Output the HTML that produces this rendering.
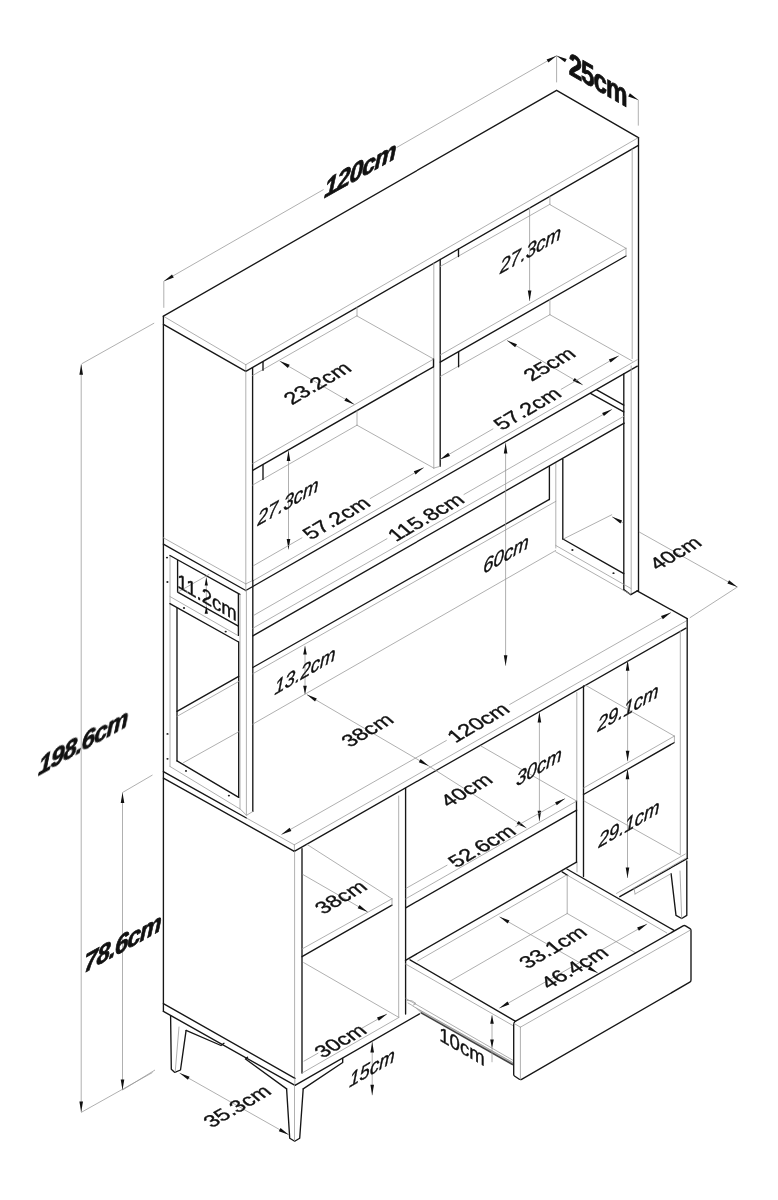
<!DOCTYPE html>
<html><head><meta charset="utf-8"><title>Dimensions</title>
<style>
html,body{margin:0;padding:0;background:#fff}
svg{display:block}
.k{fill:none;stroke:#161616;stroke-width:1.35;stroke-linecap:round;stroke-linejoin:round}
.g{fill:none;stroke:#9c9c9c;stroke-width:.8;stroke-linecap:round;stroke-linejoin:round}
.d{fill:none;stroke:#959595;stroke-width:.75}
.a{fill:#111;stroke:none}
.s{fill:none;stroke:#444;stroke-width:1.6}
.sc{fill:#222;stroke:none}
.t{font-family:"Liberation Sans",sans-serif;fill:#111;stroke:#111;stroke-width:.4px}
.b{font-weight:bold;stroke:#111;stroke-width:.8px;stroke-linejoin:round;letter-spacing:-1.2px}
.i{font-style:italic}
.h{}
</style></head><body>
<svg width="778" height="1200" viewBox="0 0 778 1200">
<rect width="778" height="1200" fill="#fff"/>
<g opacity="0.999">
<path class="k" d="M163.4 316.2L556.6 90.3L638.4 137.6"/>
<path class="g" d="M163.4 316.2L245.8 364.7"/>
<path class="g" d="M245.8 364.7L638.4 137.6"/>
<path class="g" d="M245.8 364.7L245.8 371.4"/>
<path class="k" d="M163.4 324.3L245.8 371.4L638.4 145.4"/>
<path class="k" d="M163.4 316.2L163.4 1011.4"/>
<path class="k" d="M638.5 137.6L638.5 590.8"/>
<path class="g" d="M245.8 371.4L245.8 583.9"/>
<path class="k" d="M252.6 368L252.6 580.5"/>
<path class="g" d="M163.4 537.8L245.8 583.9"/>
<path class="k" d="M163.4 544.2L245.8 590.5"/>
<path class="g" d="M245.8 583.9L252.6 580.5"/>
<path class="g" d="M252.6 581L637.3 359.7"/>
<path class="k" d="M245.8 590.5L637.3 366.1"/>
<path class="g" d="M245.8 583.9L245.8 590.5"/>
<path class="g" d="M632.2 149L632.2 358.6"/>
<path class="g" d="M433.8 263.2L433.8 468.1"/>
<path class="k" d="M440.2 259.5L440.2 466.3"/>
<path class="g" d="M433.8 468.1L440.2 466.3"/>
<path class="g" d="M252.7 463.5L433.4 359.2"/>
<path class="k" d="M433.5 358.9L433.5 366.8"/>
<path class="k" d="M252.7 470.3L433.4 366.8"/>
<path class="g" d="M357 316L433.4 358.9"/>
<path class="g" d="M252.6 375.5L357 315.8"/>
<path class="g" d="M357 307.4L357 316"/>
<path class="k" d="M263 362.2L263 370.3"/>
<path class="g" d="M252.7 485L357 425.2"/>
<path class="g" d="M357 410.6L357 425.2"/>
<path class="g" d="M357 425.2L433.8 468.1"/>
<path class="k" d="M263 465L263 479.4"/>
<path class="g" d="M440.2 355L626 248.3"/>
<path class="k" d="M440.2 362.2L626 256"/>
<path class="g" d="M626 248.3L626 256"/>
<path class="g" d="M549.9 204.6L626 248.3"/>
<path class="g" d="M440.2 266.5L549.9 204.3"/>
<path class="g" d="M549.9 196.3L549.9 204.6"/>
<path class="k" d="M458.5 248.8L458.5 256.5"/>
<path class="g" d="M440.2 376.5L549.9 314.7"/>
<path class="g" d="M549.9 299.5L549.9 314.7"/>
<path class="g" d="M549.9 314.7L632.2 361"/>
<path class="k" d="M458.6 352.2L458.6 366.8"/>
<path class="g" d="M170 556L170 766.5"/>
<path class="k" d="M169.9 555.5L239.9 594.4"/>
<path class="k" d="M177.6 560.4L177.6 592.2"/>
<path class="k" d="M177.6 592.2L238.4 626.2"/>
<path class="k" d="M238.4 594.4L238.4 635.4"/>
<path class="g" d="M169.9 596.5L237.7 635.4"/>
<path class="k" d="M169.9 603.6L238.6 642"/>
<path class="k" d="M177 608.5L177 760.9"/>
<path class="k" d="M177 760.9L238.7 797.4"/>
<path class="k" d="M238.7 641.9L238.7 797.4"/>
<path class="g" d="M170 766.5L240 809"/>
<path class="k" d="M163.4 771.7L246.4 818"/>
<ellipse class="sc" cx="167" cy="557.6" rx="1.1" ry="0.9"/>
<ellipse class="sc" cx="167.4" cy="582" rx="1.1" ry="0.9"/>
<ellipse class="sc" cx="184" cy="608" rx="1.1" ry="0.9"/>
<ellipse class="sc" cx="225.7" cy="631.6" rx="1.1" ry="0.9"/>
<ellipse class="sc" cx="167.5" cy="733.9" rx="1.1" ry="0.9"/>
<ellipse class="sc" cx="167.5" cy="758.8" rx="1.1" ry="0.9"/>
<ellipse class="sc" cx="186" cy="770.9" rx="1.1" ry="0.9"/>
<ellipse class="sc" cx="228.9" cy="795.6" rx="1.1" ry="0.9"/>
<ellipse class="sc" cx="572.4" cy="550" rx="1.1" ry="0.9"/>
<ellipse class="sc" cx="613.5" cy="573.2" rx="1.1" ry="0.9"/>
<path class="g" d="M177.6 592.2L209 574.5"/>
<path class="g" d="M240 594.4L240 808.8"/>
<path class="g" d="M246.4 590.5L246.4 815.3"/>
<path class="k" d="M252.8 580.5L252.8 811.4"/>
<path class="g" d="M240 808.8L246.5 815.3L253 811.4"/>
<path class="k" d="M623.8 373.8L623.8 589.6"/>
<path class="g" d="M631.2 366L631.2 594.6"/>
<path class="k" d="M623.8 589.6L630.8 594.7L637.3 590.8"/>
<path class="k" d="M549.4 466.4L549.4 499.5"/>
<path class="g" d="M555.8 462.3L555.8 548"/>
<path class="k" d="M562.8 459.2L562.8 539"/>
<path class="k" d="M562.9 539L623.8 573.7"/>
<path class="g" d="M555.7 545.4L631 588.5"/>
<path class="g" d="M555.7 551.8L630.3 594.2"/>
<path class="k" d="M596.7 389.9L623.8 405.1"/>
<path class="k" d="M590.5 393.4L623.8 411.9"/>
<path class="g" d="M252.8 628.3L624.2 416.1"/>
<path class="k" d="M252.8 635.8L624.2 423.1"/>
<path class="k" d="M252.8 667.5L549.4 499.3"/>
<path class="g" d="M252.8 673.7L555.9 501.3"/>
<path class="k" d="M177 711.3L238.7 676.3"/>
<path class="g" d="M177 716.4L238.7 681.5"/>
<path class="g" d="M183.4 762.7L238.7 731.8"/>
<path class="g" d="M252.8 724.1L555.7 550.5"/>
<path class="g" d="M246.4 818L294.3 844.8"/>
<path class="g" d="M294.4 844.8L294.4 851.3"/>
<path class="k" d="M163.4 778.1L294.3 851.3"/>
<path class="g" d="M294.3 844.8L687.2 620.4"/>
<path class="k" d="M294.3 851.3L686 628.1"/>
<path class="k" d="M637.1 590.8L687.2 618.6"/>
<path class="k" d="M687.2 618.6L687.2 858.4"/>
<path class="g" d="M294.6 851.3L294.6 1078.3"/>
<path class="k" d="M302 848.7L302 1073.1"/>
<path class="k" d="M163.4 1003.7L295 1078.3"/>
<path class="k" d="M163.4 1011.4L295 1085.4"/>
<path class="g" d="M294.8 1078.3L294.8 1085.4"/>
<path class="g" d="M302 1073.1L399 1017.4"/>
<path class="k" d="M295 1085.4L419.5 1013.9"/>
<path class="g" d="M398.7 796L398.7 1017.4"/>
<path class="k" d="M405.6 788.5L405.6 1014"/>
<path class="g" d="M302 949L392 898.8"/>
<path class="k" d="M302 956.7L392 905.2"/>
<path class="g" d="M392 898.8L392 905.2"/>
<path class="g" d="M307.1 844.5L392 898.8"/>
<path class="g" d="M303.7 962.6L398.3 1017.1"/>
<path class="g" d="M576.8 692.5L576.8 801"/>
<path class="g" d="M577 862.1L577 871.9"/>
<path class="k" d="M583.5 686L583.5 876.5"/>
<path class="g" d="M405.7 898.8L576.7 801.1"/>
<path class="k" d="M405.7 907.8L576.7 810.1"/>
<path class="k" d="M576.5 801.1L576.5 862.1"/>
<path class="g" d="M481 746L576.7 801.1"/>
<path class="k" d="M405.5 960.3L576.5 862.1"/>
<path class="g" d="M583.5 788L674.4 736.1"/>
<path class="k" d="M583.5 794.5L674.4 742.5"/>
<path class="g" d="M674.4 736.1L674.4 742.5"/>
<path class="g" d="M585.3 685.1L674.4 736.1"/>
<path class="g" d="M680.3 630.7L680.3 854"/>
<path class="g" d="M616.5 893.4L685.3 854"/>
<path class="k" d="M619.8 896.7L687.5 858.4"/>
<path class="g" d="M584.1 801L680.5 855"/>
<path class="g" d="M417.8 960.8L565.7 875.5"/>
<path class="k" d="M562.1 871.9L567.8 875.5"/>
<path class="k" d="M566.9 869L674 930.3"/>
<path class="g" d="M567.8 875.5L666.8 932.9"/>
<path class="g" d="M567.2 875.5L567.2 913.5"/>
<path class="g" d="M567.2 913.5L448.6 982"/>
<path class="g" d="M567.2 913.5L635.7 952.9"/>
<path class="k" d="M410 959.8L515.2 1021.1"/>
<path class="g" d="M405.4 963.9L513.2 1025.7"/>
<path d="M414 1006.5L513 1062.2L513 1064.8L420.7 1012.8Z" fill="#bdbdbd" stroke="none"/>
<path class="g" d="M405.9 998.5L513 1060.3"/>
<path class="g" d="M413 1006.2L513 1062.6"/>
<path class="s" d="M420.7 1012.6L513 1064.8"/>
<path class="g" d="M407 1000.5L412 1000.8L416 1003.5L412.5 1005.6L408 1003"/>
<path class="k" d="M513.7 1025L513.7 1074.5Q513.7 1075.6 514.8 1076.3L519.3 1079.3Q520.4 1080 521.6 1079.3L689.8 982.2Q691 981.5 691 980L691 930.5Q691 929.3 690 928.7L685.5 925.9Q684.3 925.2 683.1 925.9L514.8 1021.7Q513.7 1022.4 513.7 1025Z"/>
<path class="g" d="M513.9 1023.3L520.4 1027.2"/>
<path class="g" d="M520.4 1027.2L690 930.3"/>
<path class="g" d="M520.4 1027.2L520.4 1079.3"/>
<path class="k" d="M170.6 1015.6L171.3 1069.3L174.8 1072.4L180.5 1070L186.1 1030.4"/>
<path class="g" d="M179 1027L175.2 1072"/>
<path class="k" d="M186.1 1030.4L221 1045.5L224 1043.3"/>
<path class="k" d="M286.6 1088.9L289.7 1138.2L294.7 1141.3L299.7 1138.2L303.2 1088.9"/>
<path class="g" d="M294.5 1085L294.5 1141"/>
<path class="k" d="M247.5 1057.3L245.5 1059L286.6 1088.9"/>
<path class="k" d="M303.2 1088.9L342.7 1062.5L342.7 1058.5"/>
<path class="k" d="M671.1 873.7L676 915.4L681.7 918.5L686.8 915.4L686.8 861"/>
<path class="g" d="M680 871L681.7 918.5"/>
<path class="g" d="M685.3 858.4L634 887.9"/>
<path class="g" d="M671 873.7L635 894"/>
<path class="g" d="M634 887.9L635 894"/>
<path class="d" d="M163.8 281.2L323.6 189.5"/>
<path class="d" d="M396.5 147.6L556.6 55.7"/>
<path class="a" d="M163.8 281.2L172 274.4L173.8 277.5Z"/>
<path class="a" d="M556.6 55.7L548.4 62.5L546.6 59.4Z"/>
<path class="d" d="M163.8 281.2L163.8 307.8"/>
<path class="d" d="M556.6 55.7L556.6 82.4"/>
<text class="t b i h" font-size="28" text-anchor="middle" transform="matrix(0.8730 -0.4870 -0.0500 0.9400 360 169)" y="10.1">120cm</text>
<path class="d" d="M556.6 55.7L566 60.8"/>
<path class="d" d="M629.3 95L638.3 99.9"/>
<path class="a" d="M556.6 55.7L566.7 59.1L565 62.3Z"/>
<path class="a" d="M638.3 99.9L628.2 96.5L629.9 93.3Z"/>
<path class="d" d="M638.3 99.9L638.3 125.6"/>
<text class="t b h" font-size="28" text-anchor="middle" transform="matrix(0.8660 0.5000 0.0000 1.1200 597.6 79)" y="10.1">25cm</text>
<path class="d" d="M81.2 364.3L81.2 1112"/>
<path class="a" d="M81.2 364.3L83 374.8L79.4 374.8Z"/>
<path class="a" d="M81.2 1112L79.4 1101.5L83 1101.5Z"/>
<path class="d" d="M81.7 363.8L154.2 323.1"/>
<path class="d" d="M81 1112.5L152.5 1072.5"/>
<text class="t b i h" font-size="28" text-anchor="middle" transform="matrix(0.8730 -0.4870 -0.0500 0.9400 83 741)" y="10.1">198.6cm</text>
<path class="d" d="M122.5 792.5L122.5 1090"/>
<path class="a" d="M122.5 792.5L124.3 803L120.7 803Z"/>
<path class="a" d="M122.5 1090L120.7 1079.5L124.3 1079.5Z"/>
<path class="d" d="M122.5 792.5L152.5 775"/>
<path class="d" d="M122.5 1090L155 1070"/>
<text class="t b i h" font-size="28" text-anchor="middle" transform="matrix(0.8730 -0.4870 -0.0500 0.9400 122.5 942.5)" y="10.1">78.6cm</text>
<path class="d" d="M279.7 361.1L354.4 404.5"/>
<path class="a" d="M279.7 361.1L289.7 364.8L287.9 367.9Z"/>
<path class="a" d="M354.4 404.5L344.4 400.8L346.2 397.7Z"/>
<text class="t h" font-size="21.5" text-anchor="middle" transform="matrix(0.8660 -0.5000 0.7000 0.6100 317 383)" y="7.7">23.2cm</text>
<path class="d" d="M529.6 207L529.6 301"/>
<path class="a" d="M529.6 301L527.8 290.5L531.4 290.5Z"/>
<text class="t i h" font-size="21.5" text-anchor="middle" transform="matrix(0.8660 -0.5000 -0.0400 0.9500 530.5 251)" y="5.8">27.3cm</text>
<path class="d" d="M288.5 450.6L288.5 549.4"/>
<path class="a" d="M288.5 450.6L290.3 461.1L286.7 461.1Z"/>
<path class="a" d="M288.5 549.4L286.7 538.9L290.3 538.9Z"/>
<text class="t i h" font-size="21.5" text-anchor="middle" transform="matrix(0.8660 -0.5000 -0.0400 0.9500 288 503)" y="5.8">27.3cm</text>
<path class="d" d="M252.8 566.1L302.3 537.6"/>
<path class="d" d="M369.9 498.7L423.8 467.6"/>
<path class="a" d="M423.8 467.6L415.6 474.4L413.8 471.3Z"/>
<text class="t h" font-size="21.5" text-anchor="middle" transform="matrix(0.8660 -0.5000 0.7000 0.6100 336 518)" y="7.7">57.2cm</text>
<path class="d" d="M507 340.4L582.8 384.9"/>
<path class="a" d="M507 340.4L517 344.2L515.1 347.3Z"/>
<path class="a" d="M582.8 384.9L572.8 381.1L574.7 378Z"/>
<text class="t h" font-size="21.5" text-anchor="middle" transform="matrix(0.8660 -0.5000 0.7000 0.6100 549 364)" y="7.7">25cm</text>
<path class="d" d="M440 459.6L493.3 428.7"/>
<path class="d" d="M560.8 389.5L618.8 355.8"/>
<path class="a" d="M440 459.6L448.2 452.8L450 455.9Z"/>
<path class="a" d="M618.8 355.8L610.6 362.6L608.8 359.5Z"/>
<text class="t h" font-size="21.5" text-anchor="middle" transform="matrix(0.8660 -0.5000 0.7000 0.6100 527 408.5)" y="7.7">57.2cm</text>
<path class="d" d="M254 615.2L387.3 538.5"/>
<path class="d" d="M463.6 494.7L612.1 409.3"/>
<path class="a" d="M612.1 409.3L603.9 416.1L602.1 413Z"/>
<text class="t h" font-size="21.5" text-anchor="middle" transform="matrix(0.8660 -0.5000 0.7000 0.6100 425.7 517)" y="7.7">115.8cm</text>
<path class="d" d="M505.6 443L505.6 665.7"/>
<path class="a" d="M505.6 443L507.4 453.5L503.8 453.5Z"/>
<path class="a" d="M505.6 665.7L503.8 655.2L507.4 655.2Z"/>
<text class="t i h" font-size="21.5" text-anchor="middle" transform="matrix(0.8660 -0.5000 -0.0400 0.9500 506 555.5)" y="5.8">60cm</text>
<path class="d" d="M206.3 577.4L206.3 605.7"/>
<path class="a" d="M206.3 577.4L207.9 585.4L204.7 585.4Z"/>
<path class="a" d="M206.3 605.7L207.9 613.7L204.7 613.7Z"/>
<text class="t h" font-size="21.5" text-anchor="middle" transform="matrix(0.8660 0.5000 0.0000 0.9500 207 597)" y="7.7">11.2cm</text>
<path class="d" d="M305 645.9L305 694.2"/>
<path class="a" d="M305 645.9L306.8 654.4L303.2 654.4Z"/>
<path class="a" d="M305 694.2L303.2 685.7L306.8 685.7Z"/>
<text class="t i h" font-size="21.5" text-anchor="middle" transform="matrix(0.8660 -0.5000 -0.0400 0.9500 305 672)" y="5.8">13.2cm</text>
<path class="d" d="M306.8 694.6L428.8 766"/>
<path class="a" d="M306.8 694.6L316.8 698.4L315 701.5Z"/>
<path class="a" d="M428.8 766L418.8 762.2L420.6 759.1Z"/>
<text class="t h" font-size="21.5" text-anchor="middle" transform="matrix(0.8660 -0.5000 0.7000 0.6100 367 730)" y="7.7">38cm</text>
<path class="d" d="M281.4 834.6L446.7 740.3"/>
<path class="d" d="M509.3 704.7L671 612.5"/>
<path class="a" d="M281.4 834.6L289.6 827.8L291.4 831Z"/>
<path class="a" d="M671 612.5L662.8 619.3L661 616.1Z"/>
<text class="t h" font-size="21.5" text-anchor="middle" transform="matrix(0.8660 -0.5000 0.7000 0.6100 478 722.5)" y="7.7">120cm</text>
<path class="d" d="M612.1 516.8L623.2 523"/>
<path class="d" d="M638.9 531.8L737.4 587"/>
<path class="a" d="M612.1 516.8L622.1 520.4L620.4 523.5Z"/>
<path class="a" d="M737.4 587L727.4 583.4L729.1 580.3Z"/>
<path class="d" d="M563.4 539L612.1 514.6"/>
<path class="d" d="M689.8 617.8L737.4 587"/>
<text class="t h" font-size="21.5" text-anchor="middle" transform="matrix(0.8660 -0.5000 0.7000 0.6100 675 553)" y="7.7">40cm</text>
<path class="d" d="M428.8 766L526.5 828.1"/>
<path class="a" d="M526.5 828.1L516.7 824L518.6 820.9Z"/>
<text class="t h" font-size="21.5" text-anchor="middle" transform="matrix(0.8660 -0.5000 0.7000 0.6100 466 790)" y="7.7">40cm</text>
<path class="d" d="M539.4 712L539.4 821.2"/>
<path class="a" d="M539.4 712L541.2 722.5L537.6 722.5Z"/>
<path class="a" d="M539.4 821.2L537.6 810.7L541.2 810.7Z"/>
<text class="t i h" font-size="21.5" text-anchor="middle" transform="matrix(0.8660 -0.5000 -0.0400 0.9500 539 768)" y="5.8">30cm</text>
<path class="d" d="M405.7 888.5L447.4 865"/>
<path class="d" d="M515.4 826.7L565.1 798.6"/>
<path class="a" d="M565.1 798.6L556.8 805.3L555.1 802.2Z"/>
<text class="t h" font-size="21.5" text-anchor="middle" transform="matrix(0.8660 -0.5000 0.7000 0.6100 481.5 846)" y="7.7">52.6cm</text>
<path class="d" d="M627.6 660.3L627.6 761.2"/>
<path class="a" d="M627.6 660.3L629.4 670.8L625.8 670.8Z"/>
<path class="a" d="M627.6 761.2L625.8 750.7L629.4 750.7Z"/>
<text class="t i h" font-size="21.5" text-anchor="middle" transform="matrix(0.8660 -0.5000 -0.0400 0.9500 628 709)" y="5.8">29.1cm</text>
<path class="d" d="M627.5 768.8L627.5 878"/>
<path class="a" d="M627.5 768.8L629.3 779.3L625.7 779.3Z"/>
<path class="a" d="M627.5 878L625.7 867.5L629.3 867.5Z"/>
<text class="t i h" font-size="21.5" text-anchor="middle" transform="matrix(0.8660 -0.5000 -0.0400 0.9500 629 825)" y="5.8">29.1cm</text>
<path class="d" d="M302.5 874.3L367.7 911.9"/>
<path class="a" d="M367.7 911.9L357.7 908.2L359.5 905.1Z"/>
<text class="t h" font-size="21.5" text-anchor="middle" transform="matrix(0.8660 -0.5000 0.7000 0.6100 340.5 897)" y="7.7">38cm</text>
<path class="d" d="M303.7 1061.3L318.3 1053"/>
<path class="d" d="M361.7 1028.3L387 1014"/>
<path class="a" d="M387 1014L378.8 1020.7L377 1017.6Z"/>
<text class="t h" font-size="21.5" text-anchor="middle" transform="matrix(0.8660 -0.5000 0.7000 0.6100 340 1040.7)" y="7.7">30cm</text>
<path class="d" d="M372.2 1042L372.2 1095.2"/>
<path class="a" d="M372.2 1042L374 1052.5L370.4 1052.5Z"/>
<path class="a" d="M372.2 1095.2L370.4 1084.7L374 1084.7Z"/>
<text class="t i h" font-size="21.5" text-anchor="middle" transform="matrix(0.8660 -0.5000 -0.0400 0.9500 372 1069)" y="5.8">15cm</text>
<path class="d" d="M179.6 1073.1L288.8 1134.8"/>
<path class="a" d="M179.6 1073.1L189.6 1076.7L187.9 1079.8Z"/>
<path class="a" d="M288.8 1134.8L278.8 1131.2L280.5 1128.1Z"/>
<text class="t h" font-size="21.5" text-anchor="middle" transform="matrix(0.8660 -0.5000 0.7000 0.6100 236.8 1106)" y="7.7">35.3cm</text>
<path class="d" d="M492 1015.2L492 1048"/>
<path class="a" d="M492 1015.2L493.8 1023.7L490.2 1023.7Z"/>
<path class="a" d="M492 1048L490.2 1039.5L493.8 1039.5Z"/>
<path class="d" d="M492 1048L492 1062.2"/>
<text class="t h" font-size="21.5" text-anchor="middle" transform="matrix(0.8660 0.5000 0.0000 0.9500 462 1046)" y="7.7">10cm</text>
<path class="d" d="M499.3 1008.2L647.1 924"/>
<path class="a" d="M499.3 1008.2L507.5 1001.4L509.3 1004.6Z"/>
<path class="a" d="M647.1 924L638.9 930.8L637.1 927.6Z"/>
<path class="d" d="M499.5 916.8L597.9 973.1"/>
<path class="a" d="M499.5 916.8L509.5 920.5L507.7 923.6Z"/>
<path class="a" d="M597.9 973.1L587.9 969.4L589.7 966.3Z"/>
<text class="t h" font-size="21.5" text-anchor="middle" transform="matrix(0.8660 -0.5000 0.7000 0.6100 552.5 947)" y="7.7">33.1cm</text>
<text class="t h" font-size="21.5" text-anchor="middle" transform="matrix(0.8660 -0.5000 0.7000 0.6100 574 967.5)" y="7.7">46.4cm</text>
</g>
</svg>
</body></html>
